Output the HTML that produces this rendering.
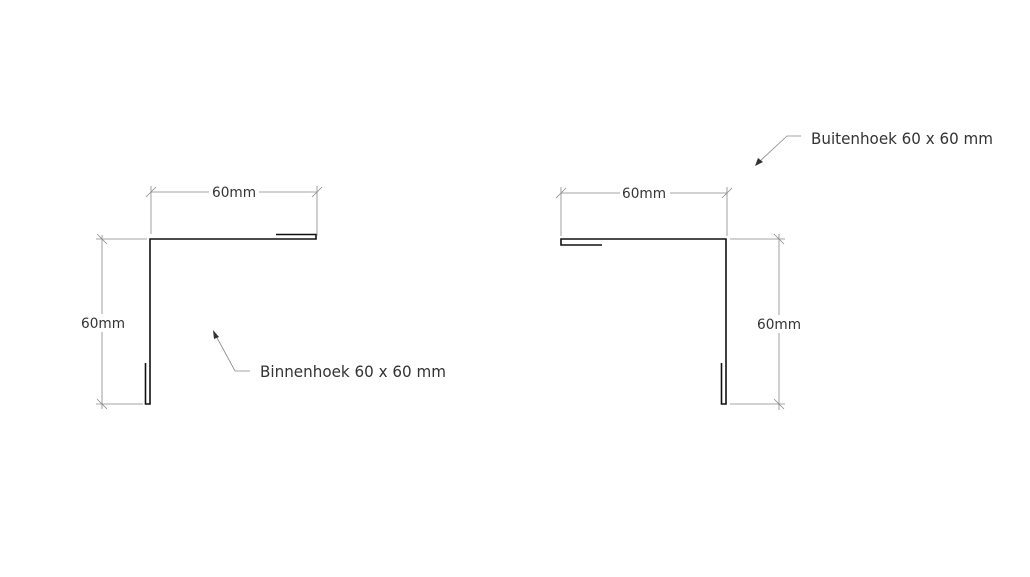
<!DOCTYPE html>
<html><head><style>html,body{margin:0;padding:0;background:#fff}svg{display:block}</style></head>
<body>
<svg width="1030" height="577" xmlns="http://www.w3.org/2000/svg" font-family="'DejaVu Sans','Liberation Sans',sans-serif">
<rect width="1030" height="577" fill="#fff"/>
<g fill="none" stroke="#111" stroke-width="1.6">
<polyline points="276,234.5 316,234.5 316,239 150,239 150,404 145.5,404 145.5,363"/>
<polyline points="602,245 561,245 561,239 726,239 726,404 721.5,404 721.5,363"/>
</g>
<g stroke="#888" stroke-width="0.8" fill="none">
<line x1="151" y1="192" x2="317" y2="192"/>
<line x1="151" y1="186" x2="151" y2="234"/>
<line x1="317" y1="186" x2="317" y2="236"/>
<line x1="146" y1="197" x2="156" y2="187"/>
<line x1="312" y1="197" x2="322" y2="187"/>
<line x1="102" y1="235" x2="102" y2="409"/>
<line x1="96" y1="239" x2="147" y2="239"/>
<line x1="96" y1="404" x2="143" y2="404"/>
<line x1="97" y1="234" x2="107" y2="244"/>
<line x1="97" y1="399" x2="107" y2="409"/>
<line x1="561" y1="193" x2="727" y2="193"/>
<line x1="561" y1="187" x2="561" y2="236"/>
<line x1="727" y1="187" x2="727" y2="236"/>
<line x1="556" y1="198" x2="566" y2="188"/>
<line x1="722" y1="198" x2="732" y2="188"/>
<line x1="779" y1="234" x2="779" y2="410"/>
<line x1="730" y1="239" x2="785" y2="239"/>
<line x1="730" y1="404" x2="785" y2="404"/>
<line x1="774" y1="234" x2="784" y2="244"/>
<line x1="774" y1="399" x2="784" y2="409"/>
<polyline points="250,371 235,371 215,334"/>
<polyline points="801,136 787,136 759,162"/>
</g>
<polygon points="213,330 219,337 214,339" fill="#333"/>
<polygon points="755,166 758,158 763,162" fill="#333"/>
<g fill="#333" font-size="14">
<rect x="209" y="184" width="50" height="16" fill="#fff"/>
<text x="212" y="197" textLength="44" lengthAdjust="spacingAndGlyphs">60mm</text>
<rect x="620" y="185" width="50" height="16" fill="#fff"/>
<text x="622" y="198" textLength="44" lengthAdjust="spacingAndGlyphs">60mm</text>
<rect x="79" y="314" width="46" height="18" fill="#fff"/>
<text x="81" y="328" textLength="44" lengthAdjust="spacingAndGlyphs">60mm</text>
<rect x="756" y="315" width="46" height="18" fill="#fff"/>
<text x="757" y="329" textLength="44" lengthAdjust="spacingAndGlyphs">60mm</text>
<text x="260" y="377" font-size="16" textLength="186" lengthAdjust="spacingAndGlyphs">Binnenhoek 60 x 60 mm</text>
<text x="811" y="144" font-size="16" textLength="182" lengthAdjust="spacingAndGlyphs">Buitenhoek 60 x 60 mm</text>
</g>
</svg>
</body></html>
